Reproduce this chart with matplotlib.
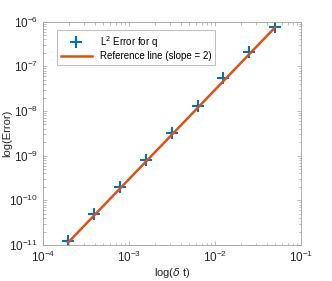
import numpy as np
from matplotlib import pyplot as plt

plt.rcParams['font.family'] = ['Liberation Sans', 'DejaVu Sans']

# step sizes and errors
dt = [0.05, 0.025, 0.0125, 0.00625, 0.003125, 0.0015625, 0.00078125, 0.000390625, 0.0001953125]
err_q = [7.5e-7, 2.04e-7, 5.4e-8, 1.3e-8, 3.3e-9, 8.2e-10, 2.0e-10, 4.9e-11, 1.2e-11]
ref_line = [7.5e-7, 1.875e-7, 4.69e-8, 1.17e-8, 2.93e-9, 7.32e-10, 1.83e-10, 4.58e-11, 1.14e-11]

fig = plt.figure(figsize=(3.32, 2.81), dpi=100)
ax = fig.add_axes([0.130, 0.128, 0.777, 0.795])

ax.loglog(dt, err_q, '+', color='#0072BD', markersize=9, markeredgewidth=1.5,
          label=r'L$^2$ Error for q')
ax.loglog(dt, ref_line, '-', color='#D95319', linewidth=1.8,
          label='Reference line (slope = 2)')

ax.set_xlim(1e-4, 1e-1)
ax.set_ylim(1e-11, 1e-6)
ax.set_xticks([1e-4, 1e-3, 1e-2, 1e-1])
ax.set_yticks([1e-11, 1e-10, 1e-9, 1e-8, 1e-7, 1e-6])

for s in ax.spines.values():
    s.set_color('#a0a0a0')
    s.set_linewidth(0.6)
ax.tick_params(which='both', direction='in', top=True, right=True,
               colors='#a0a0a0', labelcolor='#262626', labelsize=8.5, width=0.5)
ax.tick_params(which='major', length=3)
ax.tick_params(which='minor', length=1.8)

ax.set_xlabel(r'log($\delta$ t)', fontsize=8, color='#262626', labelpad=1)
ax.set_ylabel('log(Error)', fontsize=8, color='#262626')
ax.yaxis.set_label_coords(-0.12, 0.5)

leg = ax.legend(loc='upper left', fontsize=7, frameon=True, fancybox=False,
                edgecolor='#a0a0a0', borderpad=0.4, handlelength=3.2,
                labelspacing=0.2, bbox_to_anchor=(0.035, 0.985))
leg.get_frame().set_linewidth(0.6)

plt.savefig('out.png', dpi=100)
